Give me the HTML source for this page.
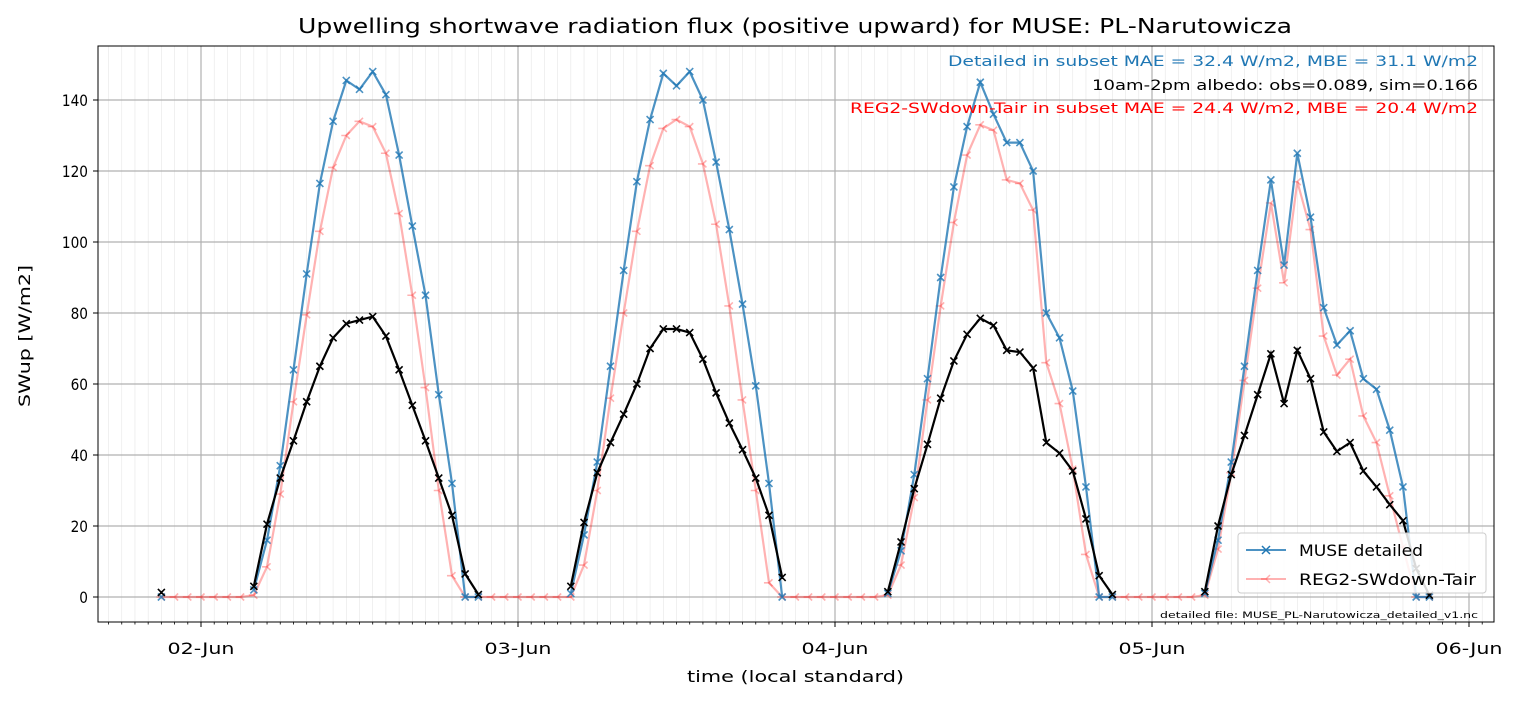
<!DOCTYPE html>
<html><head><meta charset="utf-8"><style>
body{margin:0;background:#fff;font-family:"Liberation Sans","DejaVu Sans",sans-serif;}
svg text{font-family:"DejaVu Sans","Liberation Sans",sans-serif;}
</style></head><body>
<svg id="chart" width="1517" height="701" xmlns="http://www.w3.org/2000/svg">
<rect width="1517" height="701" fill="#fff"/>
<g id="grid"></g><g id="series"></g><g id="axes"></g>
<text x="298" y="33" font-size="20" textLength="994" lengthAdjust="spacingAndGlyphs">Upwelling shortwave radiation flux (positive upward) for MUSE: PL-Narutowicza</text>
<text transform="translate(30,336) rotate(-90)" text-anchor="middle" font-size="16" textLength="142" lengthAdjust="spacingAndGlyphs">SWup [W/m2]</text>
<text x="687" y="682" font-size="16" textLength="217" lengthAdjust="spacingAndGlyphs">time (local standard)</text>
<text x="948" y="66" font-size="14" fill="#1f77b4" textLength="530" lengthAdjust="spacingAndGlyphs">Detailed in subset MAE = 32.4 W/m2, MBE = 31.1 W/m2</text>
<text x="1092" y="90" font-size="14" fill="#000" textLength="386" lengthAdjust="spacingAndGlyphs">10am-2pm albedo: obs=0.089, sim=0.166</text>
<text x="850" y="113" font-size="14" fill="#ff0000" textLength="628" lengthAdjust="spacingAndGlyphs">REG2-SWdown-Tair in subset MAE = 24.4 W/m2, MBE = 20.4 W/m2</text>
<text x="1160" y="618" font-size="9" textLength="318" lengthAdjust="spacingAndGlyphs">detailed file: MUSE_PL-Narutowicza_detailed_v1.nc</text>
<g>
<rect x="1238" y="533" width="248" height="60" rx="3" fill="#fff" fill-opacity="0.85" stroke="#ccc"/>
<line x1="1246" y1="550" x2="1286" y2="550" stroke="#1f77b4" stroke-opacity="0.8" stroke-width="2"/>
<path d="M1262,546l8,8M1270,546l-8,8" stroke="#1f77b4" stroke-width="1.5"/>
<text x="1299" y="556" font-size="16" textLength="124" lengthAdjust="spacingAndGlyphs">MUSE detailed</text>
<line x1="1246" y1="579" x2="1286" y2="579" stroke="#ff0000" stroke-opacity="0.3" stroke-width="2"/>
<path d="M1266,579l-5,0M1266,579l4,-4M1266,579l4,4" stroke="#ff0000" stroke-opacity="0.3" stroke-width="1.5"/>
<text x="1299" y="585" font-size="16" textLength="177" lengthAdjust="spacingAndGlyphs">REG2-SWdown-Tair</text>
</g>
</svg>
<script>
const dayLabels=["02-Jun","03-Jun","04-Jun","05-Jun","06-Jun"];
const yTicks=[0,20,40,60,80,100,120,140];
// day series, hours 04..21 of each day
const obsDay1=[3,20.5,33.5,44,55,65,73,77,78,79,73.5,64,54,44,33.5,23,6.5,0.7];
const obsDay2=[3,21,35,43.5,51.5,60,70,75.5,75.5,74.5,67,57.5,49,41.5,33.5,23,5.5,null];
const obsDay3=[1.5,15.5,30.5,43,56,66.5,74,78.5,76.5,69.5,69,64.5,43.5,40.5,35.5,22,6,0.7];
const obsDay4=[1.5,20,34.5,45.5,57,68.5,54.5,69.5,61.5,46.5,41,43.5,35.5,31,26,21.5,8,0.5];
const museDay1=[2,16,37,64,91,116.5,134,145.5,143,148,141.5,124.5,104.5,85,57,32,0,0];
const museDay2=[1,17.5,38,65,92,117,134.5,147.5,144,148,140,122.5,103.5,82.5,59.5,32,0,null];
const museDay3=[1,13,34.5,61.5,90,115.5,132.5,145,136,128,128,120,80,73,58,31,0,0];
const museDay4=[1,16,38,65,92,117.5,93.5,125,107,81.5,71,75,61.5,58.5,47,31,0,0];
const regDay1=[0.5,8.5,29,55,79.5,103,121,130,134,132.5,125,108,85,59,30,6,0,0];
const regDay2=[0,9,30,56,80,103,121.5,132,134.5,132.5,122,105,82,55.5,30,4,0,0];
const regDay3=[0.5,9,28,55.5,82,105.5,124.5,133,131.5,117.5,116.5,109,66,54.5,36,12,0,0];
const regDay4=[0.5,13.5,35,61,87,111,88.5,117,103.5,73.5,62.5,67,51,43.5,28.5,14,0,0];
const obsFirst=1.3;
const museFirst=0;

const NS="http://www.w3.org/2000/svg";
const X0=98,X1=1494,Y0=46,Y1=622;
const dayPx=317, t0x=201;
function xs(h){return t0x+h*dayPx/24;}
function ys(v){return 597-v*(597-100)/140;}
function el(tag,attrs,parent){const e=document.createElementNS(NS,tag);for(const k in attrs)e.setAttribute(k,attrs[k]);parent.appendChild(e);return e;}
const grid=document.getElementById('grid'),axes=document.getElementById('axes'),ser=document.getElementById('series');

const obs=[],muse=[],reg=[],hours=[];
const od=[obsDay1,obsDay2,obsDay3,obsDay4],md=[museDay1,museDay2,museDay3,museDay4],rd=[regDay1,regDay2,regDay3,regDay4];
for(let h=-3;h<=93;h++){
  hours.push(h);
  const d=Math.floor(h/24),hr=((h%24)+24)%24;
  if(d>=0&&d<4&&hr>=4&&hr<=21){obs.push(od[d][hr-4]);muse.push(md[d][hr-4]);reg.push(rd[d][hr-4]);}
  else{obs.push(h===-3?obsFirst:null);muse.push(h===-3?museFirst:null);reg.push(0);}
}

for(let h=-7;h<=100;h++){const x=xs(h);if(x<X0||x>X1)continue;
  const g=el('line',{x1:x,x2:x,y1:Y0,y2:Y1,stroke:'#e6e6e6','stroke-width':0.6},grid);
  
  const t=el('line',{x1:x,x2:x,y1:Y1,y2:Y1+2.5,stroke:'#000','stroke-width':0.8},axes);
  }
dayLabels.forEach((lab,i)=>{const x=xs(i*24);
  const g=el('line',{x1:x,x2:x,y1:Y0,y2:Y1,stroke:'#b0b0b0','stroke-width':1.2},grid);
  
  el('line',{x1:x,x2:x,y1:Y1,y2:Y1+5,stroke:'#000','stroke-width':1},axes);
  const t=el('text',{x:x-33.5,y:Y1+32,'font-size':16,textLength:67,lengthAdjust:'spacingAndGlyphs'},axes);t.textContent=lab;
  });
yTicks.forEach(v=>{const y=ys(v);
  const g=el('line',{x1:X0,x2:X1,y1:y,y2:y,stroke:'#b0b0b0','stroke-width':1.2},grid);
  
  el('line',{x1:X0-5,x2:X0,y1:y,y2:y,stroke:'#000','stroke-width':1},axes);
  const s=String(v);const w=s.length*8.7;
  const t=el('text',{x:X0-10-w,y:y+6,'font-size':16,textLength:w,lengthAdjust:'spacingAndGlyphs'},axes);t.textContent=s;
  });
const fr=el('rect',{x:X0,y:Y0,width:X1-X0,height:Y1-Y0,fill:'none',stroke:'#000','stroke-width':1},axes);


function drawLine(vals,color,op,name,marker){
  const g=el('g',{},ser);
  
  let d='',pen=false;
  vals.forEach((v,i)=>{if(v===null){pen=false;return;}const x=xs(hours[i]),y=ys(v);d+=(pen?'L':'M')+x.toFixed(1)+','+y.toFixed(1);pen=true;});
  el('path',{d:d,fill:'none',stroke:color,'stroke-opacity':op,'stroke-width':2.2},g);
  let md='';
  vals.forEach((v,i)=>{if(v===null)return;const x=xs(hours[i]),y=ys(v);
    if(marker==='x')md+=`M${x-3.5},${y-3.5}l7,7M${x+3.5},${y-3.5}l-7,7`;
    else md+=`M${x},${y}l-5,0M${x},${y}l3.5,-3.5M${x},${y}l3.5,3.5`;});
  el('path',{d:md,fill:'none',stroke:color,'stroke-opacity':op,'stroke-width':1.6},g);
}
drawLine(reg,'#ff0000',0.3,'series-reg2','tri');
drawLine(muse,'#1f77b4',0.8,'series-muse-detailed','x');
drawLine(obs,'#000000',1,'series-observed','x');
</script>
</body></html>
